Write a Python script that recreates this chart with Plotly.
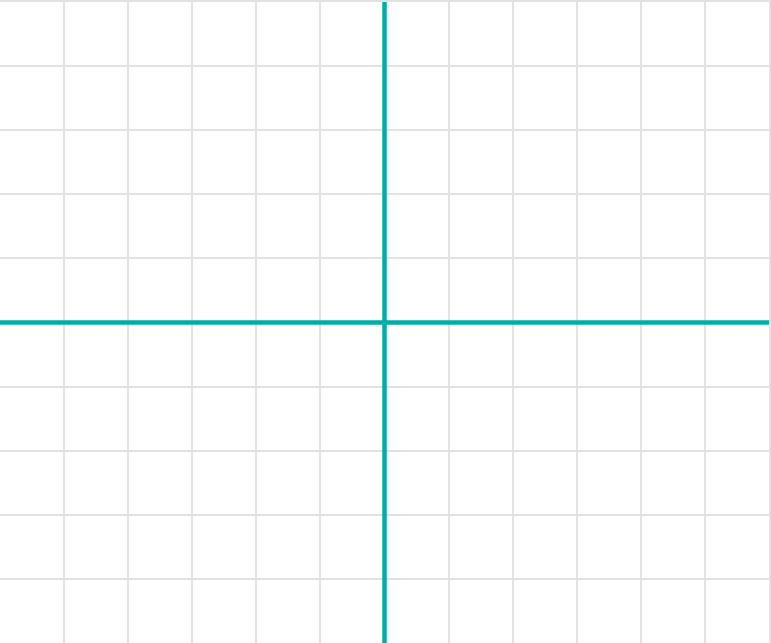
import plotly.graph_objects as go

x_ticks = list(range(-6, 7))
y_ticks = list(range(-5, 6))
x_axis_x = [-6, 6]
x_axis_y = [0, 0]
y_axis_x = [0, 0]
y_axis_y = [-5, 5]

teal = "#00ADA8"
grid = "#e2e2e2"
fig = go.Figure()
fig.add_trace(go.Scatter(x=x_axis_x, y=x_axis_y, mode="lines",
                         line=dict(color=teal, width=4.5), hoverinfo="skip", showlegend=False))
fig.add_trace(go.Scatter(x=y_axis_x, y=y_axis_y, mode="lines",
                         line=dict(color=teal, width=4.5), hoverinfo="skip", showlegend=False))

fig.update_layout(
    width=771, height=643,
    margin=dict(l=0, r=0, t=0, b=0),
    paper_bgcolor="white", plot_bgcolor="white",
    xaxis=dict(range=[-6, 6], tickvals=x_ticks, showticklabels=False,
               showgrid=True, gridcolor=grid, gridwidth=1.5, zeroline=False,
               showline=True, mirror=True, linecolor=grid, linewidth=2,
               fixedrange=True),
    yaxis=dict(range=[-5, 5], tickvals=y_ticks, showticklabels=False,
               showgrid=True, gridcolor=grid, gridwidth=1.5, zeroline=False,
               showline=True, mirror=True, linecolor=grid, linewidth=2,
               fixedrange=True),
)
fig.write_html("out.html", config={"displayModeBar": False},
               post_script="document.body.style.margin='0';")
